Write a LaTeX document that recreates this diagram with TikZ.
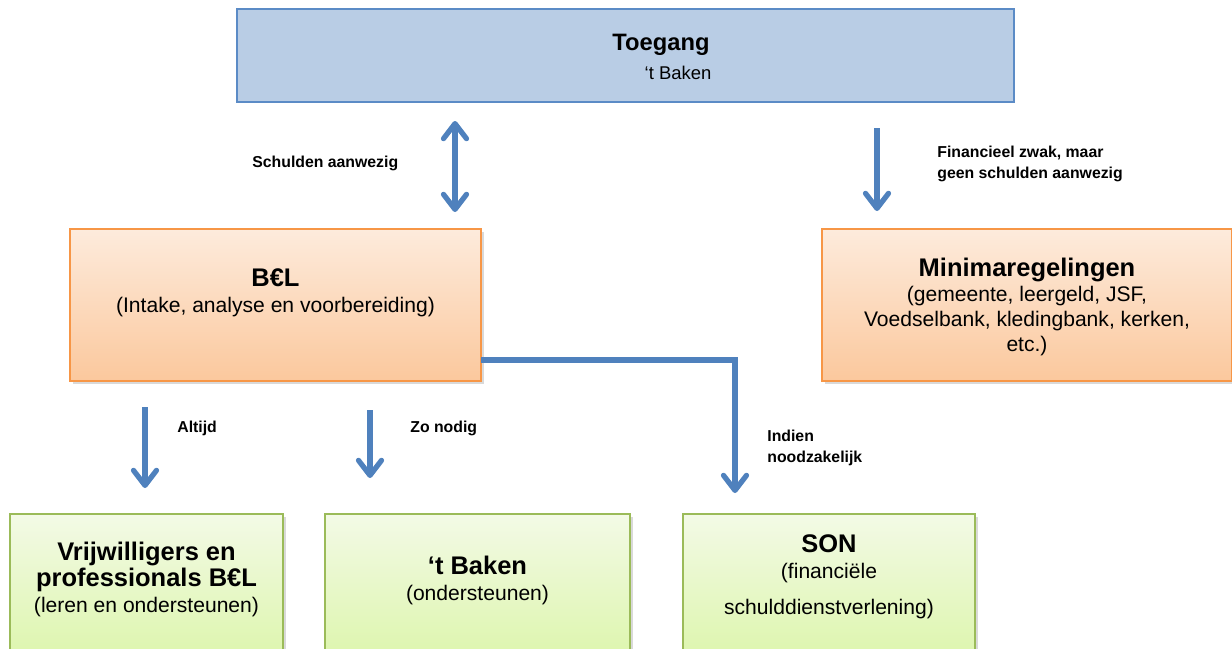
\documentclass[tikz,border=0pt]{standalone}
\usepackage{fontspec}
\setmainfont{Liberation Sans}
\usepackage{xcolor}
\usetikzlibrary{arrows.meta,positioning,shadows}
\definecolor{toegangvul}{HTML}{B9CDE5}
\definecolor{toegangrand}{HTML}{5B8BC6}
\definecolor{oranjerand}{HTML}{F79646}
\definecolor{oranjetop}{HTML}{FDEBDC}
\definecolor{oranjebodem}{HTML}{FBC89D}
\definecolor{groenrand}{HTML}{9BBB59}
\definecolor{groentop}{HTML}{F3FAE6}
\definecolor{groenbodem}{HTML}{D9F5A3}
\definecolor{pijlblauw}{HTML}{4F81BD}
\newcommand{\kopletter}{\fontsize{14.5}{17}\selectfont\bfseries}

\begin{document}
\begin{tikzpicture}[
  x=0.02cm, y=-0.02cm,
  every node/.style={align=center, inner sep=0pt},
  blok/.style={rectangle, line width=1.2pt},
  blauwblok/.style={blok, draw=toegangrand, fill=toegangvul, line width=1.4pt},
  oranjeblok/.style={blok, draw=oranjerand, top color=oranjetop, bottom color=oranjebodem,
              drop shadow={opacity=0.3, shadow xshift=1.8pt, shadow yshift=-1.8pt}},
  groenblok/.style={blok, draw=groenrand, top color=groentop, bottom color=groenbodem,
              drop shadow={opacity=0.3, shadow xshift=1.8pt, shadow yshift=-1.8pt}},
  inhoud/.style={font=\fontsize{12}{14.8}\selectfont},
  bijschrift/.style={font=\fontsize{9}{12}\selectfont\bfseries, align=left, anchor=west},
  pijl/.style={draw=pijlblauw, line width=3pt, -{Straight Barb[length=3mm,width=4.6mm,round]}},
  dubbelpijl/.style={pijl, {Straight Barb[length=3mm,width=4.6mm,round]}-{Straight Barb[length=3mm,width=4.6mm,round]}}
]
\useasboundingbox (0,0) rectangle (1232,649);

% Blokken
\node[blauwblok, minimum width=15.54cm, minimum height=1.86cm] (toegang) at (625.5,55.5) {};
\node[oranjeblok, minimum width=8.22cm, minimum height=3.04cm] (bel)    at (275.5,305) {};
\node[oranjeblok, minimum width=8.2cm,  minimum height=3.04cm] (minima) at (1027,305) {};
\node[groenblok,  minimum width=5.46cm, minimum height=3.4cm]  (vrijw)  at (146.5,599) {};
\node[groenblok,  minimum width=6.1cm,  minimum height=3.4cm]  (baken)  at (477.5,599) {};
\node[groenblok,  minimum width=5.84cm, minimum height=3.4cm]  (son)    at (829,599) {};

% Teksten in de blokken
\node[font=\fontsize{13.5}{15}\selectfont\bfseries] (toegangT) at (661,45) {Toegang};
\node[font=\fontsize{10.5}{12}\selectfont] (toegangS) at (678,73) {‘t Baken};
\node[inhoud] (belT) at (275.5,293) {{\kopletter B€L}\\(Intake, analyse en voorbereiding)};
\node[inhoud, font=\fontsize{12}{14.2}\selectfont] (minimaT) at (1027,307)
  {{\kopletter Minimaregelingen}\\(gemeente, leergeld, JSF,\\Voedselbank, kledingbank, kerken,\\etc.)};
\node[inhoud] (vrijwT) at (146.5,579) {{\kopletter Vrijwilligers en}\\{\kopletter professionals B€L}\\(leren en ondersteunen)};
\node[inhoud] (bakenT) at (477.5,580) {{\kopletter ‘t Baken}\\(ondersteunen)};
\node[inhoud] (sonT) at (829,577) {{\kopletter SON}\\(financiële\\[6pt]schulddienstverlening)};

% Pijlen
\coordinate (schuld1) at (455,121);
\coordinate (schuld2) at (455,212);
\coordinate (zwak1)   at (877,128);
\coordinate (zwak2)   at (877,211);
\coordinate (altijd1) at (145,407);
\coordinate (altijd2) at (145,488);
\coordinate (nodig1)  at (370,410);
\coordinate (nodig2)  at (370,478);
\coordinate (nood1)   at (481,360);
\coordinate (nood2)   at (735,493);
\draw[dubbelpijl] (schuld1) -- (schuld2);
\draw[pijl] (zwak1) -- (zwak2);
\draw[pijl] (altijd1) -- (altijd2);
\draw[pijl] (nodig1) -- (nodig2);
\draw[pijl] (nood1) -| (nood2);

% Bijschriften
\node[bijschrift] (schuldL) at (252,163)   {Schulden aanwezig};
\node[bijschrift] (zwakL)   at (937,163.5) {Financieel zwak, maar\\geen schulden aanwezig};
\node[bijschrift] (altijdL) at (177,428)   {Altijd};
\node[bijschrift] (nodigL)  at (410,428)   {Zo nodig};
\node[bijschrift] (noodL)   at (767,448)   {Indien\\noodzakelijk};
\end{tikzpicture}
\end{document}
